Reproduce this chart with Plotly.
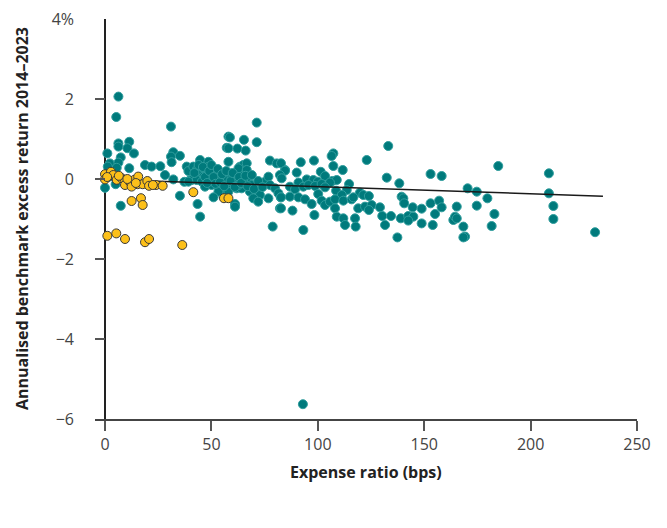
import plotly.graph_objects as go

# Active funds (teal): expense ratio (bps) and annualised excess return (%)
teal_x = [6.3, 5.3, 31, 6.3, 6.3, 11.4, 10.5, 13.6, 1.1, 7.4, 32.1, 31, 31.3, 35.2, 2.3, 1.3, 6.3, 5.5,
          11.4, 18.8, 21.9, 26, 38.4, 28.2, 32.1, 37.3, 0, 35.2, 7.4, 5, 1.5, 39.9,
          71.3, 58, 58.7, 65.3, 71.3, 57.2, 58, 62.2, 66.1, 58, 44.7, 48.6, 77.5, 80.7,
          39.2, 41.5, 43.1, 45.5, 47.0, 48.6, 50.9, 52.5, 43.9, 46.2, 49.3, 40.7, 43.1, 45.5, 48.6, 51.7, 54.0,
          39.2, 47.0, 50.1, 53.3, 56.4, 57.2, 59.5, 58.7, 61.1, 61.9, 63.4, 65.0, 66.6, 64.2, 62.7, 66.6,
          67.3, 65.0, 64.2, 62.7, 68.9, 68.1, 71.3, 72.8, 75.2, 76.8, 77.5, 79.9, 81.5, 55.6, 58.0, 53.3,
          51.0, 43.5, 61.1, 44.7, 78.8, 69.7, 72.0, 76.8, 82.2, 61.1, 84.6, 82.6,
          42, 44, 46, 47, 48, 49, 50, 51, 52, 53, 54, 55, 56, 57, 59, 60, 61, 63, 64, 66, 67, 69, 70, 72, 74,
          107.3, 106.5, 123, 82.7, 92, 98.2, 107.3, 111.7, 84.6, 82.2, 83, 90.1, 101.4, 103.4, 106.8, 108.9,
          105.7, 94.8, 97.9, 100, 90.9, 86.9, 89.3, 93.2, 95.6, 98.7, 101.8, 103.4, 114.7, 113.6, 108.6, 111.3,
          86.9, 90.9, 94, 97.1, 100.2, 101.8, 103.4, 105.7, 108.1, 112, 115.9, 119.8, 121.4, 116.7,
          82.7, 82.7, 88.1, 98.4, 108.1, 108.9, 112, 112.8, 117.5, 117.8, 119, 122.2, 93.2,
          133.1, 132.4, 138.3, 153, 158.2, 124, 139.4, 140.2, 140.6, 125.3, 124, 129.2, 130.3, 134.4, 131.6,
          139, 142.5, 144.9, 142.5, 144.6, 148.8, 153, 157, 158.2, 155.1, 148.8, 154, 163.7, 164.5, 165.3, 137.4,
          184.8, 208.6, 170.4, 174.7, 179.7, 208.6, 210.7, 210.7, 174.7, 183, 165.3, 168.4, 181.7, 169.2, 168.4, 230.3,
          93]
teal_y = [2.06, 1.55, 1.31, 0.89, 0.81, 0.93, 0.77, 0.64, 0.64, 0.54, 0.67, 0.56, 0.42, 0.58, 0.39, 0.31, 0.41, 0.28,
          0.27, 0.35, 0.31, 0.32, 0.31, 0.10, -0.01, -0.07, -0.22, -0.42, -0.67, -0.13, 0.05, -0.03,
          1.41, 1.06, 1.04, 0.98, 0.92, 0.78, 0.77, 0.76, 0.71, 0.43, 0.475, 0.43, 0.46, 0.39,
          0.20, 0.31, 0.225, 0.267, 0.183, 0.308, 0.267, 0.142, 0.10, 0.058, 0.10, -0.025, -0.025, -0.067, -0.067, -0.025, 0.017,
          -0.067, -0.192, -0.15, -0.192, 0.10, -0.025, 0.058, -0.15, -0.067, -0.233, 0.308, 0.35, 0.392, 0.183, 0.267, 0.225,
          -0.025, -0.067, -0.233, -0.15, -0.15, -0.317, -0.317, -0.40, -0.067, 0.058, -0.15, -0.233, -0.358, -0.275, -0.317, -0.317,
          -0.458, -0.625, -0.625, -0.942, -1.19, -0.483, -0.567, -0.483, -0.733, -0.692, 0.225, -0.46,
          0.15, 0.35, 0.30, 0.05, -0.10, 0.20, 0.35, 0.05, -0.12, 0.25, -0.08, 0.12, -0.18, 0.20, -0.05, 0.15, -0.20, 0.05, -0.10, 0.08, -0.18, 0.10, -0.25, -0.05, -0.20,
          0.64, 0.575, 0.475, 0.392, 0.42, 0.46, 0.325, 0.225, 0.21, 0.10, 0.017, 0.16, 0.18, 0.075, -0.05, -0.025,
          -0.09, -0.01, -0.025, -0.067, -0.09, -0.192, -0.258, -0.192, -0.15, -0.175, -0.125, -0.208, -0.125, -0.275, -0.292, -0.40,
          -0.442, -0.458, -0.508, -0.625, -0.375, -0.542, -0.65, -0.567, -0.508, -0.542, -0.508, -0.342, -0.40, -0.458,
          -0.458, -0.733, -0.79, -0.90, -0.733, -0.942, -0.983, -1.15, -0.983, -1.19, -0.733, -0.69, -1.275,
          0.825, 0.033, -0.108, 0.125, 0.075, -0.425, -0.442, -0.483, -0.608, -0.65, -0.775, -0.708, -0.925, -0.925, -1.15,
          -0.983, -0.925, -0.942, -1.04, -0.708, -0.742, -0.608, -0.542, -0.708, -0.875, -1.11, -1.15, -1.025, -0.942, -0.69, -1.46,
          0.325, 0.142, -0.233, -0.317, -0.483, -0.358, -0.675, -1.0, -0.667, -0.875, -0.985, -1.19, -1.175, -1.44, -1.46, -1.33,
          -5.63]

# Index funds (yellow)
yellow_x = [0, 0, 2.8, 3.9, 5.5, 7.8, 9.4, 9.4, 11.7, 12.5, 13.8, 15.6, 15.3, 17.7, 19.9, 20.7, 24, 27.1,
            12.5, 16.9, 17.7, 1.1, 5.3, 9.4, 18.8, 20.7, 36.3, 41.5, 55.9, 58, 1, 6.5, 10.5, 14.5, 22.5]
yellow_y = [0.12, -0.01, 0.18, 0.10, -0.02, 0.02, -0.02, -0.15, -0.07, -0.19, -0.02, 0.06, -0.13, -0.13, -0.05, -0.17, -0.15, -0.17,
            -0.55, -0.48, -0.65, -1.42, -1.36, -1.50, -1.58, -1.50, -1.65, -0.33, -0.48, -0.48, 0.05, 0.08, 0.0, -0.10, -0.15]

# Trend line end points
trend_x = [0, 234]
trend_y = [-0.01, -0.43]

x_ticks = [0, 50, 100, 150, 200, 250]
y_ticks = [4, 2, 0, -2, -4, -6]
y_tick_text = ["4%", "2", "0", "\u22122", "\u22124", "\u22126"]

fig = go.Figure()
fig.add_trace(go.Scatter(x=teal_x, y=teal_y, mode="markers",
                         marker=dict(size=9, color="#007a7c", line=dict(color="#2f9d9d", width=1)),
                         hoverinfo="skip", showlegend=False, cliponaxis=False))
fig.add_trace(go.Scatter(x=trend_x, y=trend_y, mode="lines",
                         line=dict(color="#1a1a1a", width=1.5), hoverinfo="skip", showlegend=False))
fig.add_trace(go.Scatter(x=yellow_x, y=yellow_y, mode="markers",
                         marker=dict(size=9, color="#fcc01a", line=dict(color="#3a3a3a", width=1)),
                         hoverinfo="skip", showlegend=False, cliponaxis=False))

fig.update_layout(
    width=667, height=528,
    margin=dict(l=95, r=30, t=19, b=109),
    paper_bgcolor="white", plot_bgcolor="white",
    font=dict(family="Open Sans", color="#444"),
    xaxis=dict(range=[-4.7, 250], tickvals=x_ticks, ticks="outside", ticklen=10, tickwidth=1.5,
               tickcolor="#555555", showline=True, linecolor="#444444", linewidth=1.5, automargin=False,
               showgrid=False, zeroline=True, zerolinecolor="#222222", zerolinewidth=1.5,
               tickfont=dict(size=16, color="#444")),
    yaxis=dict(range=[-6, 4], tickvals=y_ticks, ticktext=y_tick_text, ticks="inside", ticklen=10,
               tickwidth=1.5, tickcolor="#555555", showline=False, showgrid=False, zeroline=False,
               automargin=False, ticklabelstandoff=20, tickfont=dict(size=16, color="#444")),
    annotations=[
        dict(text="<b>Expense ratio (bps)</b>", xref="paper", yref="paper", x=0.5, y=0,
             xanchor="center", yanchor="middle", yshift=-53, xshift=0, showarrow=False,
             font=dict(size=16, color="#222")),
        dict(text="<b>Annualised benchmark excess return 2014\u20132023</b>", xref="paper", yref="paper",
             x=0, y=0.5, xanchor="center", yanchor="middle", xshift=-73, textangle=-90, showarrow=False,
             font=dict(size=16, color="#222")),
    ],
)

fig.write_html("out.html", config={"displayModeBar": False},
               post_script="document.body.style.margin='0';")
